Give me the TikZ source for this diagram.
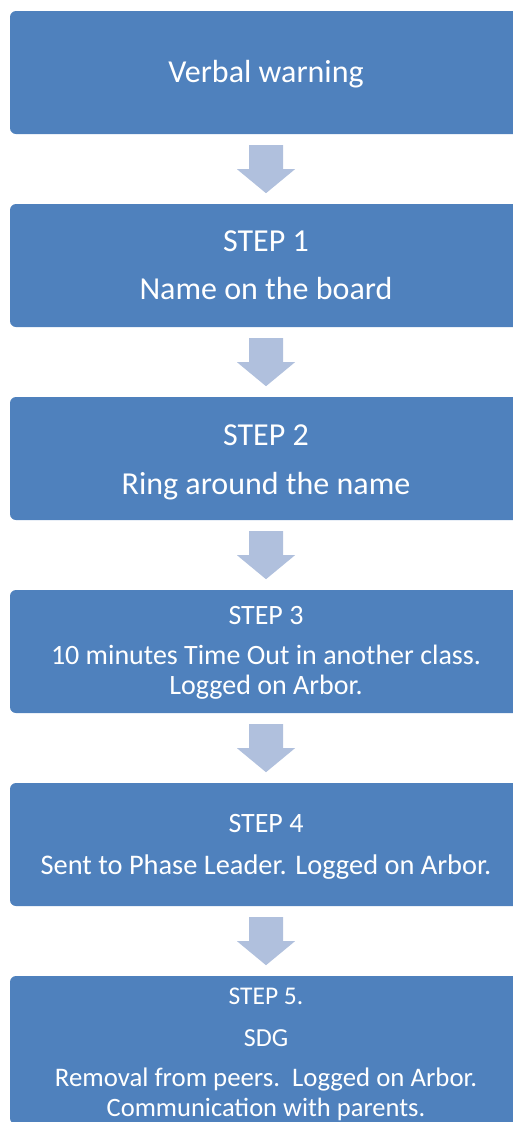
\documentclass[tikz,border=0pt]{standalone}
\usepackage{fontspec}
\setmainfont{Carlito}
\definecolor{boxblue}{RGB}{79,129,189}
\definecolor{arrowblue}{RGB}{176,192,221}
\newcommand{\fs}[1]{\fontsize{#1}{#1}\selectfont}
\tikzset{
  stepbox/.style={fill=boxblue, draw=none, rounded corners=6pt, inner sep=0pt,
                  minimum width=512pt, minimum height=123pt},
  label/.style={text=white, anchor=base, inner sep=0pt},
  downarrow/.style={fill=arrowblue, draw=none}
}
% block arrow hanging below a box
\newcommand{\flowarrow}[1]{%
  \fill[downarrow] (#1.south) ++(-17,11) -- ++(34,0) -- ++(0,24) -- ++(12,0)
    -- ++(-29,24) -- ++(-29,-24) -- ++(12,0) -- cycle;}
\begin{document}
\begin{tikzpicture}[x=1pt,y=-1pt]
\useasboundingbox (0,0) rectangle (513,1122);
\clip (0,0) rectangle (513,1122);

% boxes
\node[stepbox] (b0) at (266,72.5) {};
\node[stepbox] (b1) at (266,265.5) {};
\node[stepbox] (b2) at (266,458.5) {};
\node[stepbox] (b3) at (266,651.5) {};
\node[stepbox] (b4) at (266,844.5) {};
\node[stepbox, minimum height=148pt] (b5) at (266,1050) {};

% arrows between steps
\flowarrow{b0}
\flowarrow{b1}
\flowarrow{b2}
\flowarrow{b3}
\flowarrow{b4}

% texts
\node[label, font=\fs{32}] (t0) at (266,82) {Verbal warning};

\node[label, font=\fs{32}] (t1a) at (266,251) {STEP 1};
\node[label, font=\fs{32}] (t1b) at (266,299) {Name on the board};

\node[label, font=\fs{32}] (t2a) at (266,445) {STEP 2};
\node[label, font=\fs{32}] (t2b) at (266,494) {Ring around the name};

\node[label, font=\fs{28}] (t3a) at (266,624) {STEP 3};
\node[label, font=\fs{28}] (t3b) at (266,664) {10 minutes Time Out in another class.};
\node[label, font=\fs{28}] (t3c) at (266,694) {Logged on Arbor.};

\node[label, font=\fs{28}] (t4a) at (266,832) {STEP 4};
\node[label, font=\fs{28.4}] (t4b) at (266,874) {Sent to Phase Leader. Logged on Arbor.};

\node[label, font=\fs{25.5}] (t5a) at (266,1004) {STEP 5.};
\node[label, font=\fs{26}] (t5b) at (266,1046) {SDG};
\node[label, font=\fs{26.8}] (t5c) at (266,1086) {Removal from peers.\ \ Logged on Arbor.};
\node[label, font=\fs{26.5}] (t5d) at (266,1116) {Communication with parents.};
\end{tikzpicture}
\end{document}
